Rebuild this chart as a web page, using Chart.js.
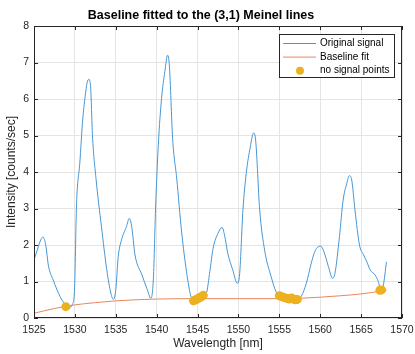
<!DOCTYPE html>
<html>
<head>
<meta charset="utf-8">
<script src="https://cdn.jsdelivr.net/npm/chart.js@4/dist/chart.umd.min.js"></script>
<style>
  html, body { margin: 0; padding: 0; background: #fff; }
  canvas { display: block; }
</style>
</head>
<body>
<canvas id="chart" width="415" height="354"></canvas>
<script>
// values
const signalWl = [
  1525.0, 1525.4, 1525.73, 1526.1, 1526.45, 1526.75, 1527.35, 1528.2, 1528.8, 1528.9,
  1529.3, 1529.7, 1529.95, 1530.2, 1530.6, 1530.95, 1531.25, 1531.5, 1531.7, 1531.92,
  1532.15, 1532.6, 1533.25, 1533.9, 1534.4, 1534.7, 1535.0, 1535.3, 1535.7, 1536.3,
  1536.65, 1536.95, 1537.35, 1538.2, 1538.8, 1539.3, 1539.6, 1539.88, 1540.2, 1540.6,
  1541.0, 1541.33, 1541.55, 1541.95, 1542.45, 1543.05, 1543.65, 1544.2, 1544.5, 1544.9,
  1545.3, 1545.7, 1546.1, 1546.5, 1546.9, 1547.5, 1548.0, 1548.3, 1548.7, 1549.3,
  1549.85, 1550.15, 1550.55, 1550.95, 1551.45, 1551.85, 1552.1, 1552.6, 1553.2, 1554.0,
  1554.6, 1555.0, 1555.6, 1556.2, 1556.5, 1557.0, 1557.3, 1557.7, 1558.3, 1558.9,
  1559.3, 1559.6, 1560.05, 1560.45, 1561.0, 1561.5, 1561.8, 1562.35, 1562.8, 1563.25,
  1563.55, 1563.85, 1564.25, 1564.8, 1565.3, 1565.7, 1566.1, 1566.7, 1567.1, 1567.4,
  1567.7, 1568.1
];
const signalVal = [
  1.60, 1.86, 2.09, 2.22, 1.98, 1.45, 1.04, 0.58, 0.36, 0.31,
  0.28, 0.38, 0.75, 3.10, 4.24, 5.42, 6.06, 6.45, 6.54, 6.34,
  5.00, 3.78, 2.50, 1.32, 0.68, 0.51, 0.77, 1.68, 2.14, 2.50,
  2.73, 2.50, 1.73, 1.18, 0.81, 0.54, 1.09, 3.10, 4.74, 6.02,
  6.75, 7.20, 6.93, 4.92, 3.83, 2.36, 1.27, 0.58, 0.47, 0.51,
  0.56, 0.62, 0.70, 1.27, 1.91, 2.32, 2.48, 2.27, 1.77, 1.32,
  0.95, 1.22, 2.96, 3.96, 4.69, 5.07, 4.88, 2.96, 1.86, 1.13,
  0.72, 0.61, 0.56, 0.52, 0.55, 0.50, 0.51, 0.60, 0.95, 1.50,
  1.80, 1.92, 1.97, 1.82, 1.41, 1.09, 1.22, 2.23, 3.23, 3.69,
  3.90, 3.78, 2.96, 2.00, 1.73, 1.54, 1.32, 1.18, 1.00, 0.78,
  0.88, 1.54
];

const baseWl  = [1525, 1527.5, 1530, 1532.5, 1535, 1537.5, 1540, 1545, 1550, 1555, 1557.5, 1560, 1562.5, 1565, 1567.5, 1568.1];
const baseVal = [0.13, 0.26, 0.36, 0.42, 0.47, 0.50, 0.52, 0.53, 0.53, 0.53, 0.54, 0.57, 0.61, 0.66, 0.74, 0.76];

const dotWl  = [1528.9, 1544.5, 1544.7, 1544.9, 1545.1, 1545.3, 1545.5, 1545.7,
                1555.0, 1555.3, 1555.6, 1555.9, 1556.2, 1556.5, 1556.8, 1557.0, 1557.2,
                1567.3, 1567.5];
const dotVal = [0.31, 0.47, 0.49, 0.51, 0.54, 0.56, 0.59, 0.62,
                0.61, 0.58, 0.56, 0.54, 0.52, 0.55, 0.51, 0.50, 0.51,
                0.76, 0.77];

const xTicks = [1525, 1530, 1535, 1540, 1545, 1550, 1555, 1560, 1565, 1570];
const yTicks = [0, 1, 2, 3, 4, 5, 6, 7, 8];

const FONT = '"Liberation Sans", Arial, Helvetica, sans-serif';
const AXIS = '#262626';

const toPoints = (xs, ys) => xs.map((x, i) => ({ x, y: ys[i] }));

// box round the axes with inward tick marks, like the original figure
const framePlugin = {
  id: 'frame',
  afterDatasetsDraw(chart) {
    const { ctx, chartArea: a, scales } = chart;
    ctx.save();
    ctx.strokeStyle = AXIS;
    ctx.lineWidth = 1;
    ctx.strokeRect(a.left + 0.5, a.top + 0.5, a.right - a.left - 1, a.bottom - a.top - 1);
    ctx.beginPath();
    xTicks.forEach(v => {
      const px = Math.round(scales.x.getPixelForValue(v)) + 0.5;
      ctx.moveTo(px, a.bottom); ctx.lineTo(px, a.bottom - 4);
      ctx.moveTo(px, a.top); ctx.lineTo(px, a.top + 4);
    });
    yTicks.forEach(v => {
      const py = Math.round(scales.y.getPixelForValue(v)) + 0.5;
      ctx.moveTo(a.left, py); ctx.lineTo(a.left + 4, py);
      ctx.moveTo(a.right, py); ctx.lineTo(a.right - 4, py);
    });
    ctx.stroke();
    ctx.restore();
  }
};

// legend box drawn inside the plot, top right
const insideLegend = {
  id: 'insideLegend',
  afterDraw(chart) {
    const { ctx, chartArea: a } = chart;
    const w = 115, h = 43;
    const left = a.right - 8 - w, top = a.top + 8;
    ctx.save();
    ctx.fillStyle = '#fff';
    ctx.fillRect(left, top, w, h);
    ctx.strokeStyle = AXIS;
    ctx.lineWidth = 1;
    ctx.strokeRect(left + 0.5, top + 0.5, w, h);
    ctx.font = '10px ' + FONT;
    ctx.textBaseline = 'middle';
    chart.data.datasets.forEach((ds, i) => {
      const y = top + 9.5 + i * 13.6;
      if (ds.showLine === false) {
        ctx.fillStyle = ds.backgroundColor;
        ctx.beginPath();
        ctx.arc(left + 21, y, 4, 0, Math.PI * 2);
        ctx.fill();
      } else {
        ctx.strokeStyle = ds.borderColor;
        ctx.lineWidth = ds.borderWidth;
        ctx.beginPath();
        ctx.moveTo(left + 4, y);
        ctx.lineTo(left + 37, y);
        ctx.stroke();
      }
      ctx.fillStyle = '#000';
      ctx.fillText(ds.label, left + 41, y);
    });
    ctx.restore();
  }
};

new Chart(document.getElementById('chart'), {
  type: 'scatter',
  data: {
    datasets: [
      {
        label: 'Original signal',
        data: toPoints(signalWl, signalVal),
        showLine: true,
        borderColor: '#4597d6',
        borderWidth: 1,
        pointRadius: 0,
        cubicInterpolationMode: 'monotone',
        order: 2
      },
      {
        label: 'Baseline fit',
        data: toPoints(baseWl, baseVal),
        showLine: true,
        borderColor: '#e9875c',
        borderWidth: 1,
        pointRadius: 0,
        cubicInterpolationMode: 'monotone',
        order: 1
      },
      {
        label: 'no signal points',
        data: toPoints(dotWl, dotVal),
        showLine: false,
        backgroundColor: '#EDB120',
        borderWidth: 0,
        pointRadius: 4.5,
        order: 0
      }
    ]
  },
  options: {
    responsive: false,
    animation: false,
    devicePixelRatio: 1,
    layout: { padding: { left: 0, right: 13, top: 0, bottom: 0 } },
    plugins: {
      legend: { display: false },
      tooltip: { enabled: false },
      title: {
        display: true,
        text: 'Baseline fitted to the (3,1) Meinel lines',
        color: '#000',
        font: { family: FONT, size: 12.5, weight: 'bold' },
        padding: { top: 8, bottom: 3 }
      }
    },
    scales: {
      x: {
        type: 'linear',
        min: 1525,
        max: 1570,
        afterBuildTicks: s => { s.ticks = xTicks.map(v => ({ value: v })); },
        afterFit: s => {
          s.height = 36;
          s.paddingLeft = 0;
          s.paddingRight = 0;
        },
        grid: { color: '#e4e4e4', drawTicks: false },
        border: { display: false },
        ticks: {
          color: AXIS,
          padding: 6,
          maxRotation: 0,
          font: { family: FONT, size: 10.5 },
          callback: v => String(v)
        },
        title: {
          display: true,
          text: 'Wavelength [nm]',
          color: AXIS,
          font: { family: FONT, size: 12 },
          padding: { top: 0, bottom: 3 }
        }
      },
      y: {
        type: 'linear',
        min: 0,
        max: 8,
        afterBuildTicks: s => { s.ticks = yTicks.map(v => ({ value: v })); },
        afterFit: s => {
          s.width = 34;
          s.paddingTop = 0;
          s.paddingBottom = 0;
        },
        grid: { color: '#e4e4e4', drawTicks: false },
        border: { display: false },
        ticks: {
          color: AXIS,
          padding: 5,
          font: { family: FONT, size: 10.5 },
          callback: v => String(v)
        },
        title: {
          display: true,
          text: 'Intensity [counts/sec]',
          color: AXIS,
          font: { family: FONT, size: 12 },
          padding: { top: 4, bottom: 0 }
        }
      }
    }
  },
  plugins: [framePlugin, insideLegend]
});
</script>
</body>
</html>
